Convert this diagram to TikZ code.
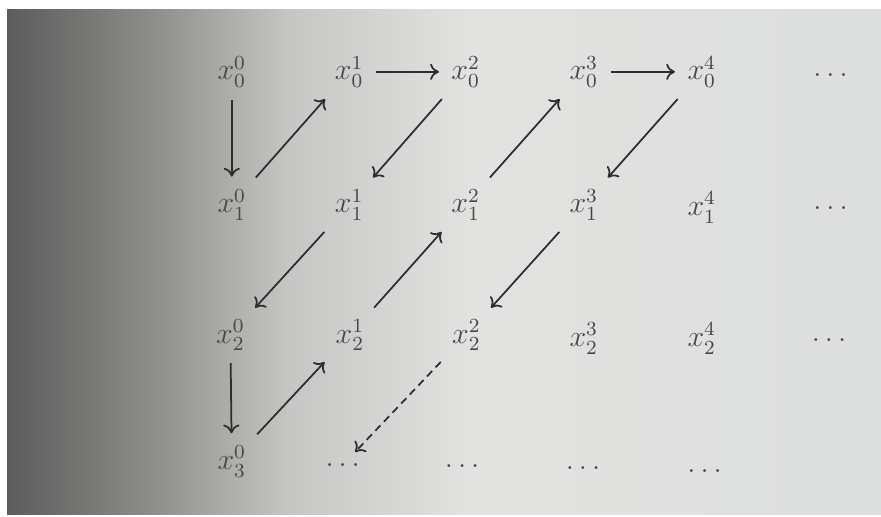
\documentclass[tikz,border=0pt]{standalone}
\usepackage{tikz}
\usetikzlibrary{arrows.meta}
\usepackage{xcolor}

\definecolor{ink}{RGB}{72,72,72}
\definecolor{arrowink}{RGB}{45,45,45}
\definecolor{bgA}{RGB}{92,92,92}
\definecolor{bgB}{RGB}{140,140,137}
\definecolor{bgC}{RGB}{198,198,196}
\definecolor{bgD}{RGB}{226,226,224}
\definecolor{bgE}{RGB}{220,222,222}

\begin{document}
\begin{tikzpicture}[
  entry/.style={text=ink,inner sep=3.33pt,font=\large},
  arrow/.style={-{To[length=3.5pt,width=6.5pt]},draw=arrowink,line width=0.7pt,shorten >=1.5pt,shorten <=1.5pt},
  guess/.style={arrow,dash pattern=on 3pt off 2pt}
]
% photo background
\useasboundingbox (0,0) rectangle (12.39,-7.27);
\fill[white] (0,0) rectangle (12.39,-7.27);
\fill[bgC] (0.10,-0.14) rectangle (12.39,-7.24);
\shade[left color=bgA,right color=bgB] (0.10,-0.14) rectangle (2.11,-7.24);
\shade[left color=bgB,right color=bgC] (2.10,-0.14) rectangle (4.08,-7.24);
\shade[left color=bgC,right color=bgD] (4.07,-0.14) rectangle (6.61,-7.24);
\shade[left color=bgD,right color=bgE] (6.60,-0.14) rectangle (12.39,-7.24);

% row 0
\node[entry] (x00) at (3.26,-1.01) {$x_0^0$};
\node[entry] (x01) at (4.91,-1.01) {$x_0^1$};
\node[entry] (x02) at (6.55,-1.01) {$x_0^2$};
\node[entry] (x03) at (8.21,-1.01) {$x_0^3$};
\node[entry] (x04) at (9.87,-1.01) {$x_0^4$};
\node[entry] (d0) at (11.68,-1.05) {$\ldots$};
% row 1
\node[entry] (x10) at (3.26,-2.88) {$x_1^0$};
\node[entry] (x11) at (4.91,-2.88) {$x_1^1$};
\node[entry] (x12) at (6.55,-2.88) {$x_1^2$};
\node[entry] (x13) at (8.21,-2.88) {$x_1^3$};
\node[entry] (x14) at (9.87,-2.92) {$x_1^4$};
\node[entry] (d1) at (11.68,-2.92) {$\ldots$};
% row 2
\node[entry] (x20) at (3.24,-4.71) {$x_2^0$};
\node[entry] (x21) at (4.92,-4.71) {$x_2^1$};
\node[entry] (x22) at (6.56,-4.71) {$x_2^2$};
\node[entry] (x23) at (8.21,-4.76) {$x_2^3$};
\node[entry] (x24) at (9.87,-4.76) {$x_2^4$};
\node[entry] (d2) at (11.66,-4.78) {$\ldots$};
% row 3
\node[entry] (x30) at (3.26,-6.49) {$x_3^0$};
\node[entry] (b1) at (4.82,-6.54) {$\ldots$};
\node[entry] (b2) at (6.50,-6.55) {$\ldots$};
\node[entry] (b3) at (8.20,-6.58) {$\ldots$};
\node[entry] (b4) at (9.91,-6.62) {$\ldots$};

% zigzag order
\draw[arrow] (x00) -- (x10);
\draw[arrow] (x10) -- (x01);
\draw[arrow] (x01) -- (x02);
\draw[arrow] (x02) -- (x11);
\draw[arrow] (x11) -- (x20);
\draw[arrow] (x20) -- (x30);
\draw[arrow] (x30) -- (x21);
\draw[arrow] (x21) -- (x12);
\draw[arrow] (x12) -- (x03);
\draw[arrow] (x03) -- (x04);
\draw[arrow] (x04) -- (x13);
\draw[arrow] (x13) -- (x22);
\draw[guess] (x22) -- (b1);
\end{tikzpicture}
\end{document}
